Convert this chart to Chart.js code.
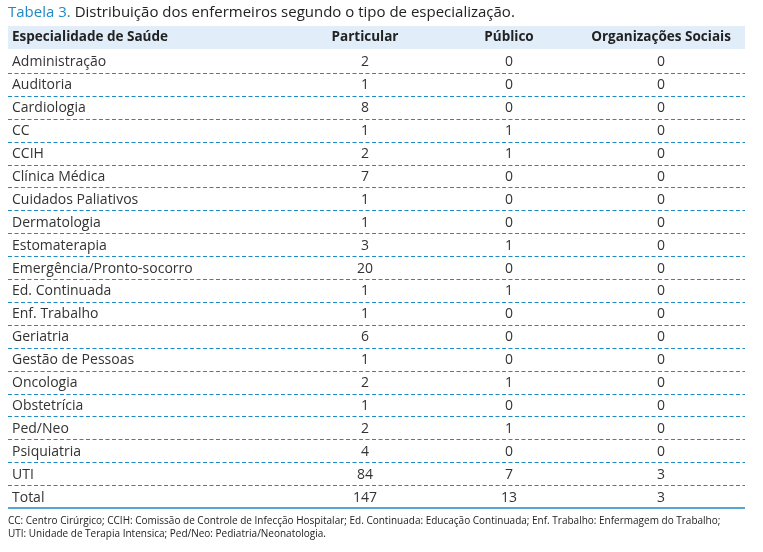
<!DOCTYPE html><html><head><meta charset="utf-8">
<script src="https://cdn.jsdelivr.net/npm/chart.js@4"></script>
<style>html,body{margin:0;padding:0;background:#fff}#c{display:block}</style></head><body>
<div style="width:763px;height:552px"><canvas id="c"></canvas></div>
<script>
const headers=["Especialidade de Saúde","Particular","Público","Organizações Sociais"];
const categories=["Administração","Auditoria","Cardiologia","CC","CCIH","Clínica Médica","Cuidados Paliativos","Dermatologia","Estomaterapia","Emergência/Pronto-socorro","Ed. Continuada","Enf. Trabalho","Geriatria","Gestão de Pessoas","Oncologia","Obstetrícia","Ped/Neo","Psiquiatria","UTI","Total"];
const particular=[2,1,8,1,2,7,1,1,3,20,1,1,6,1,2,1,2,4,84,147];
const publico=[0,0,0,1,1,0,0,0,1,0,1,0,0,0,1,0,1,0,7,13];
const orgSociais=[0,0,0,0,0,0,0,0,0,0,0,0,0,0,0,0,0,0,3,3];
const titleLabel="Tabela 3.";
const titleText=" Distribuição dos enfermeiros segundo o tipo de especialização.";
const footnote=["CC: Centro Cirúrgico; CCIH: Comissão de Controle de Infecção Hospitalar; Ed. Continuada: Educação Continuada; Enf. Trabalho: Enfermagem do Trabalho;","UTI: Unidade de Terapia Intensica; Ped/Neo: Pediatria/Neonatologia."];
const F="'Open Sans', sans-serif";
const colX=[12,365,509,661];
const tablePlugin={id:'table',afterDraw(chart){
  const c=chart.ctx,a=chart.chartArea,ys=chart.scales.y;
  const band=(a.bottom-a.top)/categories.length;
  c.save();
  c.textBaseline='alphabetic';c.font="15px "+F;c.textAlign='left';
  c.fillStyle='#1f8ac4';c.fillText(titleLabel,8,17);
  const w=c.measureText(titleLabel).width;
  c.fillStyle='#222';c.fillText(titleText,8+w,17);
  c.fillStyle='#e1edf8';c.fillRect(a.left,a.top-band-1,a.right-a.left,band);
  c.font="bold 13.5px "+F;c.fillStyle='#222';c.textBaseline='middle';
  const hy=a.top-band/2-1;
  c.textAlign='left';c.fillText(headers[0],colX[0],hy);
  c.textAlign='center';for(let i=1;i<4;i++)c.fillText(headers[i],colX[i],hy);
  c.font="14px "+F;c.fillStyle='#333';
  categories.forEach((cat,i)=>{
    const y=ys.getPixelForValue(i)+1;
    c.textAlign='left';c.fillText(cat,colX[0],y);
    c.textAlign='center';
    c.fillText(String(particular[i]),colX[1],y);
    c.fillText(String(publico[i]),colX[2],y);
    c.fillText(String(orgSociais[i]),colX[3],y);
  });
  c.strokeStyle='#1f8ac4';c.lineWidth=1.2;c.setLineDash([4,2.5]);
  for(let i=1;i<categories.length;i++){const y=Math.round(a.top+band*i)+0.5;c.beginPath();c.moveTo(a.left,y);c.lineTo(a.right,y);c.stroke();}
  c.setLineDash([]);c.lineWidth=1.5;
  c.beginPath();c.moveTo(a.left,a.bottom);c.lineTo(a.right,a.bottom);c.stroke();
  c.font="10px "+F;c.fillStyle='#222';c.textAlign='left';c.textBaseline='alphabetic';
  c.fillText(footnote[0],8,524);c.fillText(footnote[1],8,537);
  c.restore();
}};
new Chart(document.getElementById('c'),{type:'scatter',
 data:{datasets:[{data:categories.map((c,i)=>({x:particular[i],y:i})),pointRadius:0}]},
 options:{responsive:true,maintainAspectRatio:false,animation:false,
  layout:{padding:{top:50,bottom:44,left:8,right:18}},
  plugins:{legend:{display:false},tooltip:{enabled:false}},
  scales:{y:{type:'linear',min:-0.5,max:categories.length-0.5,reverse:true,display:false},
          x:{type:'linear',display:false}}},
 plugins:[tablePlugin]});
</script></body></html>
